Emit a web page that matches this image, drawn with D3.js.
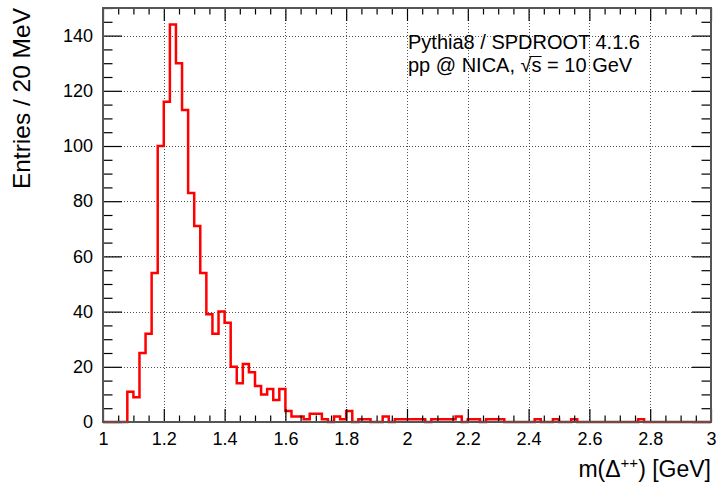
<!DOCTYPE html>
<html>
<head>
<meta charset="utf-8">
<script src="https://cdn.jsdelivr.net/npm/d3@7"></script>
<style>
  html, body { margin: 0; padding: 0; background: #fff; }
  svg { display: block; font-family: "Liberation Sans", Arial, Helvetica, sans-serif; }
</style>
</head>
<body>
<svg id="chart" width="719" height="486"></svg>
<script>
// Delta++ invariant mass spectrum, 100 bins of 20 MeV from 1 to 3 GeV
const binLow = 1.0;
const binWidth = 0.02;
const counts = [
  0, 0, 0, 0, 11, 9, 25, 32, 54, 100,
  116, 144, 130, 113, 83, 71, 54, 39, 32, 40,
  36, 20, 14, 21, 18, 13, 10, 12, 8, 12,
  4, 2, 2, 1, 3, 3, 1, 0, 2, 1,
  4, 0, 1, 1, 0, 0, 2, 0, 1, 1,
  1, 1, 1, 0, 1, 1, 1, 1, 2, 0,
  1, 1, 0, 1, 1, 1, 0, 0, 0, 0,
  0, 1, 0, 0, 1, 0, 0, 1, 0, 0,
  0, 0, 0, 0, 0, 0, 0, 0, 1, 0,
  0, 0, 0, 0, 0, 0, 0, 0, 0, 0
];
const xDomain = [1, 3];
const yDomain = [0, 150];
const xMajorTicks = [1, 1.2, 1.4, 1.6, 1.8, 2, 2.2, 2.4, 2.6, 2.8, 3];
const yMajorTicks = [0, 20, 40, 60, 80, 100, 120, 140];
const xTitle = "m(Δ";
const xTitleSup = "++";
const xTitleTail = ") [GeV]";
const yTitle = "Entries / 20 MeV";
const infoLine1 = "Pythia8 / SPDROOT 4.1.6";

const frame = { left: 103, right: 711, top: 8, bottom: 422 };
const svg = d3.select("#chart");

const x = d3.scaleLinear().domain(xDomain).range([frame.left, frame.right]);
const y = d3.scaleLinear().domain(yDomain).range([frame.bottom, frame.top]);

const xMinor = d3.range(0, 41).map(i => 1 + i * 0.05).filter(v => !xMajorTicks.some(t => Math.abs(t - v) < 1e-9));
const yMinor = d3.range(0, 31).map(i => i * 5).filter(v => v % 20 !== 0);

// dotted grid at major ticks
const grid = svg.append("g")
  .attr("stroke", "#222")
  .attr("stroke-width", 1)
  .attr("stroke-dasharray", "1 2")
  .attr("stroke-opacity", 0.8);
grid.selectAll("line.gx").data(xMajorTicks.slice(1, -1)).join("line")
  .attr("x1", d => Math.round(x(d)) + 0.5).attr("x2", d => Math.round(x(d)) + 0.5)
  .attr("y1", frame.top).attr("y2", frame.bottom);
grid.selectAll("line.gy").data(yMajorTicks.slice(1)).join("line")
  .attr("x1", frame.left).attr("x2", frame.right)
  .attr("y1", d => Math.round(y(d)) + 0.5).attr("y2", d => Math.round(y(d)) + 0.5);

// histogram outline as a step path
const pts = [];
counts.forEach((c, i) => {
  const x0 = binLow + i * binWidth, x1 = x0 + binWidth;
  pts.push([x0, c], [x1, c]);
});
const line = d3.line().x(d => x(d[0])).y(d => y(d[1]));
svg.append("path")
  .datum(pts)
  .attr("d", line)
  .attr("fill", "none")
  .attr("stroke", "#ff0000")
  .attr("stroke-width", 2.5)
  .attr("stroke-linejoin", "miter");

// axes with inward ticks on all four sides
function styleAxis(g) {
  g.select(".domain").remove();
  g.selectAll(".tick line").attr("stroke", "#000").attr("stroke-width", 1.2);
  g.selectAll("text").attr("fill", "#000").attr("font-size", 18)
    .attr("font-family", "'Liberation Sans', Arial, sans-serif");
}
const fmtX = d3.format("~g");

svg.append("g").attr("transform", `translate(0,${frame.bottom})`)
  .call(d3.axisBottom(x).tickValues(xMajorTicks).tickSize(-13).tickPadding(10).tickFormat(fmtX))
  .call(styleAxis);
svg.append("g").attr("transform", `translate(0,${frame.bottom})`)
  .call(d3.axisBottom(x).tickValues(xMinor).tickSize(-6.5).tickFormat(""))
  .call(styleAxis);
svg.append("g").attr("transform", `translate(0,${frame.top})`)
  .call(d3.axisTop(x).tickValues(xMajorTicks).tickSize(-13).tickFormat(""))
  .call(styleAxis);
svg.append("g").attr("transform", `translate(0,${frame.top})`)
  .call(d3.axisTop(x).tickValues(xMinor).tickSize(-6.5).tickFormat(""))
  .call(styleAxis);

svg.append("g").attr("transform", `translate(${frame.left},0)`)
  .call(d3.axisLeft(y).tickValues(yMajorTicks).tickSize(-19).tickPadding(10))
  .call(styleAxis);
svg.append("g").attr("transform", `translate(${frame.left},0)`)
  .call(d3.axisLeft(y).tickValues(yMinor).tickSize(-9.5).tickFormat(""))
  .call(styleAxis);
svg.append("g").attr("transform", `translate(${frame.right},0)`)
  .call(d3.axisRight(y).tickValues(yMajorTicks).tickSize(-19).tickFormat(""))
  .call(styleAxis);
svg.append("g").attr("transform", `translate(${frame.right},0)`)
  .call(d3.axisRight(y).tickValues(yMinor).tickSize(-9.5).tickFormat(""))
  .call(styleAxis);

// frame
svg.append("rect")
  .attr("x", frame.left).attr("y", frame.top)
  .attr("width", frame.right - frame.left).attr("height", frame.bottom - frame.top)
  .attr("fill", "none").attr("stroke", "#555").attr("stroke-width", 2);

// axis titles
const xt = svg.append("text")
  .attr("x", frame.right).attr("y", 477)
  .attr("text-anchor", "end").attr("font-size", 23).attr("fill", "#000");
xt.append("tspan").text(xTitle);
xt.append("tspan").attr("dy", -9).attr("font-size", 15).text(xTitleSup);
xt.append("tspan").attr("dy", 9).text(xTitleTail);

svg.append("text")
  .attr("transform", `translate(30,${frame.top}) rotate(-90)`)
  .attr("text-anchor", "end").attr("font-size", 24.5).attr("fill", "#000")
  .text(yTitle);

// generator / energy annotation
svg.append("text").attr("x", 408).attr("y", 49).attr("font-size", 20).attr("fill", "#000")
  .text(infoLine1);
const t2 = svg.append("text").attr("x", 408).attr("y", 72).attr("font-size", 20).attr("fill", "#000");
t2.append("tspan").text("pp @ NICA, ");
const rad = t2.append("tspan").text("√");
const sArg = t2.append("tspan").text("s");
t2.append("tspan").text(" = 10 GeV");

// overline of the square root across its argument
const node = t2.node();
const nPre = "pp @ NICA, ".length;
const radBox = node.getExtentOfChar(nPre);
const sBox = node.getExtentOfChar(nPre + 1);
svg.append("line")
  .attr("x1", radBox.x + radBox.width - 1).attr("x2", sBox.x + sBox.width)
  .attr("y1", radBox.y + 2.5).attr("y2", radBox.y + 2.5)
  .attr("stroke", "#000").attr("stroke-width", 1);
</script>
</body>
</html>
